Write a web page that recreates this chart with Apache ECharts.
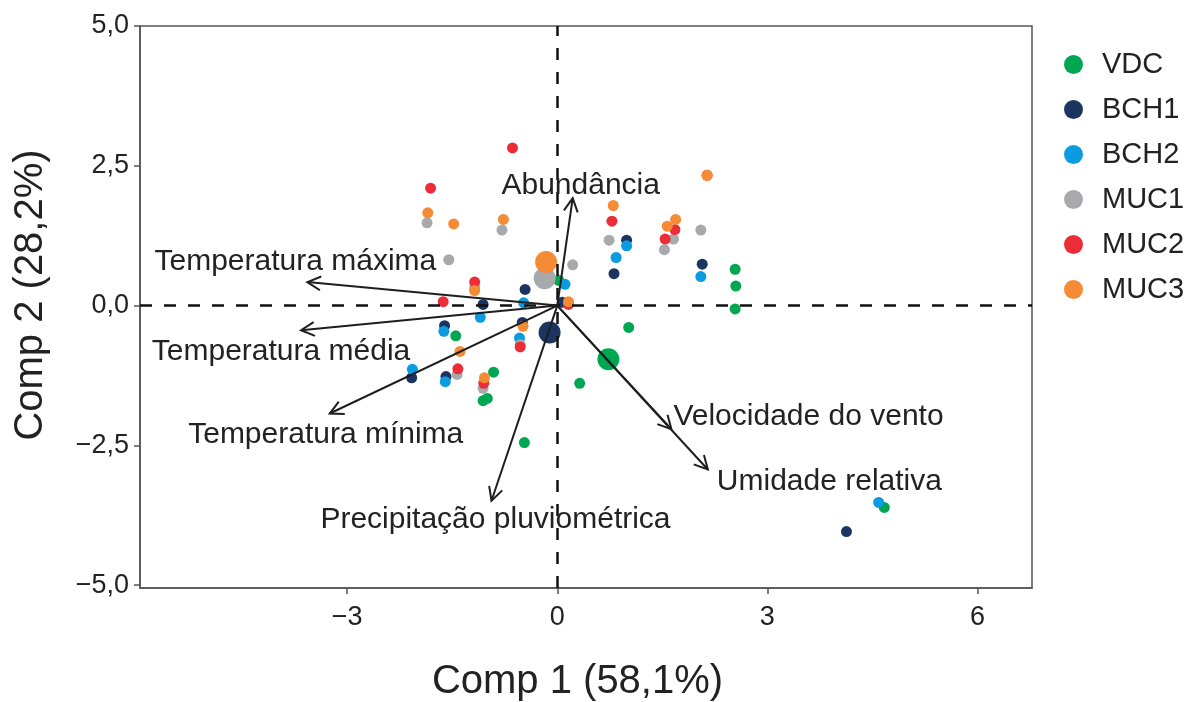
<!DOCTYPE html>
<html>
<head>
<meta charset="utf-8">
<script src="https://cdn.jsdelivr.net/npm/echarts@6/dist/echarts.min.js"></script>
<style>
  html, body { margin: 0; padding: 0; background: #ffffff; }
  #chart { width: 1202px; height: 702px; }
</style>
</head>
<body>
<div id="chart"></div>
<script>
// PCA biplot: sample scores per site and environmental loadings

const groups = ['VDC', 'BCH1', 'BCH2', 'MUC1', 'MUC2', 'MUC3'];
const groupColors = ['#00a651', '#1b3560', '#0a9be0', '#a7a9ac', '#ec2d38', '#f58b34'];

// sample scores [Comp 1, Comp 2]
const vdcScores = [[0.02, 0.45], [2.54, 0.65], [2.55, 0.35], [2.54, -0.06], [1.02, -0.39], [-1.45, -0.54],
  [-0.91, -1.19], [-1.06, -1.70], [-1.00, -1.66], [0.32, -1.39], [-0.47, -2.45], [4.67, -3.61]];
const bch1Scores = [[-0.46, 0.29], [-1.06, 0.02], [0.07, 0.06], [0.99, 1.17], [0.81, 0.57], [2.07, 0.74],
  [-1.61, -0.36], [-0.50, -0.30], [-2.08, -1.29], [-1.59, -1.27], [4.13, -4.04]];
const bch2Scores = [[0.11, 0.38], [-0.48, 0.05], [0.99, 1.07], [0.84, 0.86], [2.05, 0.52], [-1.10, -0.21],
  [-1.62, -0.46], [-0.54, -0.58], [-2.07, -1.14], [-1.60, -1.36], [4.59, -3.52]];
const muc1Scores = [[-1.86, 1.48], [-0.79, 1.35], [-1.55, 0.82], [0.22, 0.73], [-1.18, 0.32], [0.74, 1.17],
  [1.66, 1.19], [1.53, 1.00], [2.05, 1.35], [-0.53, -0.70], [-1.43, -1.23], [-1.06, -1.48]];
const muc2Scores = [[-0.64, 2.82], [-1.81, 2.10], [-1.18, 0.42], [-1.63, 0.07], [0.16, 0.02], [0.78, 1.51],
  [2.14, 2.33], [1.68, 1.36], [1.54, 1.19], [-0.53, -0.74], [-1.42, -1.13], [-1.05, -1.39]];
const muc3Scores = [[-1.85, 1.66], [-1.48, 1.46], [-0.77, 1.54], [-1.18, 0.27], [0.16, 0.07], [0.80, 1.79],
  [2.14, 2.33], [1.69, 1.54], [1.57, 1.42], [-0.49, -0.37], [-1.39, -0.82], [-1.04, -1.29]];

// group centroids (null where none is drawn)
const groupCentroids = [[0.73, -0.96], [-0.11, -0.48], null, [-0.18, 0.49], null, [-0.16, 0.78]];

// variable loadings
const loadingNames = ['Abundância', 'Temperatura máxima', 'Temperatura média', 'Temperatura mínima',
  'Precipitação pluviométrica', 'Velocidade do vento', 'Umidade relativa'];
const loadingX = [0.22, -3.57, -3.66, -3.25, -0.94, 1.63, 2.15];
const loadingY = [1.92, 0.42, -0.44, -1.93, -3.49, -2.21, -2.93];

// axis ticks
const xTickValues = [-3, 0, 3, 6];
const yTickValues = [-5, -2.5, 0, 2.5, 5];

// label placement relative to each arrow tip: [dx, dy, align]
const loadingLabelPlacement = [
  [8, -13, 'center'], [-12, -20, 'center'], [-20, 22, 'center'], [-4, 21, 'center'],
  [4, 19, 'center'], [2, -12, 'left'], [9, 12, 'left']
];

const FONT = '"Liberation Sans", Arial, Helvetica, sans-serif';
const scoreSets = [vdcScores, bch1Scores, bch2Scores, muc1Scores, muc2Scores, muc3Scores];

const fmt = v => String(v).replace('.', ',').replace('-', '\u2212');

const scatterSeries = groups.map((g, i) => {
  const data = scoreSets[i].map(p => ({ value: p }));
  if (groupCentroids[i]) data.unshift({ value: groupCentroids[i], symbolSize: 22 });
  return {
    name: g,
    type: 'scatter',
    data: data,
    symbol: 'circle',
    symbolSize: 11,
    itemStyle: { color: groupColors[i], opacity: 1 },
    z: 3,
    animation: false
  };
});

const loadingData = loadingNames.map((n, i) => [loadingX[i], loadingY[i]]);

const arrowSeries = {
  type: 'custom',
  data: loadingData,
  z: 10,
  silent: true,
  animation: false,
  renderItem: function (params, api) {
    const i = params.dataIndex;
    const o = api.coord([0, 0]);
    const t = api.coord([api.value(0), api.value(1)]);
    const ang = Math.atan2(t[1] - o[1], t[0] - o[0]);
    const L = 15, a = 0.48;
    const h1 = [t[0] - L * Math.cos(ang - a), t[1] - L * Math.sin(ang - a)];
    const h2 = [t[0] - L * Math.cos(ang + a), t[1] - L * Math.sin(ang + a)];
    const pl = loadingLabelPlacement[i];
    return {
      type: 'group',
      children: [
        { type: 'line', shape: { x1: o[0], y1: o[1], x2: t[0], y2: t[1] },
          style: { stroke: '#1e1e1e', lineWidth: 2 } },
        { type: 'polyline', shape: { points: [h1, t, h2] },
          style: { stroke: '#1e1e1e', lineWidth: 2, fill: null } },
        { type: 'text', x: t[0] + pl[0], y: t[1] + pl[1],
          style: { text: loadingNames[i], fill: '#222', fontSize: 30, fontFamily: FONT,
                   align: pl[2], verticalAlign: 'middle' } }
      ]
    };
  }
};

const zeroLines = {
  type: 'scatter',
  data: [],
  silent: true,
  z: 2,
  markLine: {
    silent: true,
    symbol: 'none',
    animation: false,
    label: { show: false },
    lineStyle: { color: '#111', width: 2.5, type: [12, 12] },
    data: [{ xAxis: 0 }, { yAxis: 0 }]
  }
};

const chart = echarts.init(document.getElementById('chart'), null, { renderer: 'canvas' });
chart.setOption({
  backgroundColor: '#ffffff',
  animation: false,
  textStyle: { fontFamily: FONT },
  grid: {
    left: 140, top: 26, right: 170, bottom: 114,
    outerBoundsMode: 'none',
    containLabel: false,
    show: true, borderColor: '#555', borderWidth: 1.5, backgroundColor: 'transparent'
  },
  legend: {
    data: groups,
    orient: 'vertical',
    left: 1059,
    top: 45,
    icon: 'circle',
    itemWidth: 19,
    itemHeight: 19,
    itemGap: 16,
    textStyle: { fontSize: 29, color: '#222', fontFamily: FONT, padding: [0, 0, 0, 14] }
  },
  xAxis: {
    type: 'value',
    min: -5.96,
    max: 6.78,
    name: 'Comp 1 (58,1%)',
    nameLocation: 'middle',
    nameGap: 74,
    nameTextStyle: { fontSize: 40, color: '#222', fontFamily: FONT, padding: [0, 17, 0, 0] },
    axisLine: { show: true, onZero: false, lineStyle: { color: '#555', width: 1.5 } },
    axisTick: { show: true, length: 6, customValues: xTickValues, lineStyle: { color: '#555', width: 1.5 } },
    axisLabel: { customValues: xTickValues, fontSize: 27, color: '#222', margin: 16, formatter: v => fmt(v) },
    splitLine: { show: false }
  },
  yAxis: {
    type: 'value',
    min: -5.05,
    max: 5.0,
    name: 'Comp 2 (28,2%)',
    nameLocation: 'middle',
    nameGap: 89,
    nameTextStyle: { fontSize: 40, color: '#222', fontFamily: FONT, padding: [0, 0, 0, 24] },
    axisLine: { show: true, onZero: false, lineStyle: { color: '#555', width: 1.5 } },
    axisTick: { show: true, length: 6, customValues: yTickValues, lineStyle: { color: '#555', width: 1.5 } },
    axisLabel: { customValues: yTickValues, fontSize: 27, color: '#222', margin: 11,
                 formatter: v => fmt(v.toFixed(1)) },
    splitLine: { show: false }
  },
  series: [zeroLines, ...scatterSeries, arrowSeries]
});
</script>
</body>
</html>
